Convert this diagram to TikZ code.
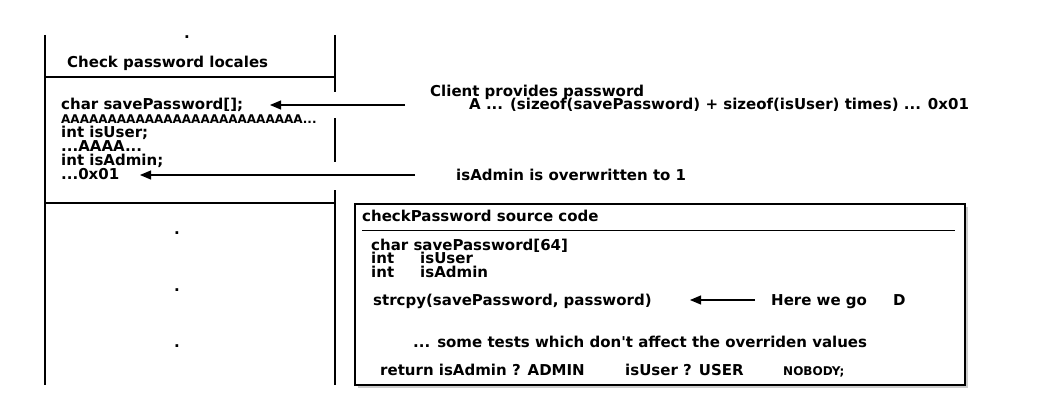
\documentclass[tikz,border=0pt]{standalone}
\usepackage{fontspec}
\setmainfont{DejaVu Sans}
\usetikzlibrary{arrows.meta, shadows}

\begin{document}
\begin{tikzpicture}[x=1pt,y=-1pt,
  txt/.style={anchor=base west, inner sep=0pt, font=\fontsize{15}{15}\selectfont\bfseries},
  smalltxt/.style={txt, font=\fontsize{12}{12}\selectfont\bfseries},
  dotmark/.style={inner sep=0pt, font=\fontsize{15}{15}\selectfont\bfseries},
  arr/.style={-{Triangle[length=11pt,width=9pt]}, line width=1.1pt},
  ln/.style={line width=1.1pt}]
  \useasboundingbox (0,0) rectangle (1050,420);

  % Stapel
  \draw[ln] (45,35) -- (45,385); % links
  \draw[ln] (335,35) -- (335,92); % rechts
  \draw[ln] (335,118) -- (335,162);
  \draw[ln] (335,190) -- (335,385);
  \draw[ln] (45,77) -- (335,77);
  \draw[ln] (45,203) -- (335,203);
  \node[dotmark] (dtop) at (187,37) {.};
  \foreach \y in {233,290,346} {
    \node[dotmark] (dot\y) at (177,\y) {.};
  }

  % Locales
  \node[txt] (locales) at (67,67) {Check password locales};
  \node[txt] (savepw) at (61,110) {char savePassword[];};
  \node[smalltxt] (fillA) at (61,123.5) {AAAAAAAAAAAAAAAAAAAAAAAAAA...};
  \node[txt] (isuser) at (61,137) {int isUser;};
  \node[txt] (fillB) at (61,151) {...AAAA...};
  \node[txt] (isadmin) at (61,165) {int isAdmin;};
  \node[txt] (val) at (61,179) {...0x01};

  % Pfeile rechts
  \coordinate (cpR) at (405,105);
  \coordinate (cpL) at (270,105);
  \draw[arr] (cpR) -- (cpL);
  \node[txt] (client) at (430,96) {Client provides password};
  \node[txt] (payload) at (469,110) {A ... (sizeof(savePassword) + sizeof(isUser) times) ... 0x01};
  \coordinate (owR) at (415,175);
  \coordinate (owL) at (140,175);
  \draw[arr] (owR) -- (owL);
  \node[txt] (over) at (456,180) {isAdmin is overwritten to 1};

  % Quelltext
  \node[draw, ln, fill=white, minimum width=610pt, minimum height=181pt,
        drop shadow={shadow xshift=2.5pt, shadow yshift=-2.5pt, opacity=0.4}] (code) at (660,294.5) {};
  \node[txt] (title) at (362,221) {checkPassword source code};
  \draw[line width=0.8pt] (362,230) -- (955,230);
  \node[txt] (decl) at (371,250) {char savePassword[64]};
  \node[txt] (intA) at (371,263) {int};
  \node[txt] (usr) at (420,263) {isUser};
  \node[txt] (intB) at (371,277) {int};
  \node[txt] (adm) at (420,277) {isAdmin};
  \node[txt] (strcpy) at (373,305) {strcpy(savePassword, password)};
  \coordinate (goR) at (755,300);
  \coordinate (goL) at (690,300);
  \draw[arr] (goR) -- (goL);
  \node[txt] (herego) at (771,305) {Here we go};
  \node[txt] (dd) at (893,305) {D};
  \node[txt] (tests) at (413,347) {... some tests which don\textquotesingle t affect the overriden values};
  \node[txt] (ret) at (380,375) {return isAdmin ? ADMIN};
  \node[txt] (retu) at (625,375) {isUser ? USER};
  \node[smalltxt] (nobody) at (783,375) {NOBODY;};

\end{tikzpicture}
\end{document}
